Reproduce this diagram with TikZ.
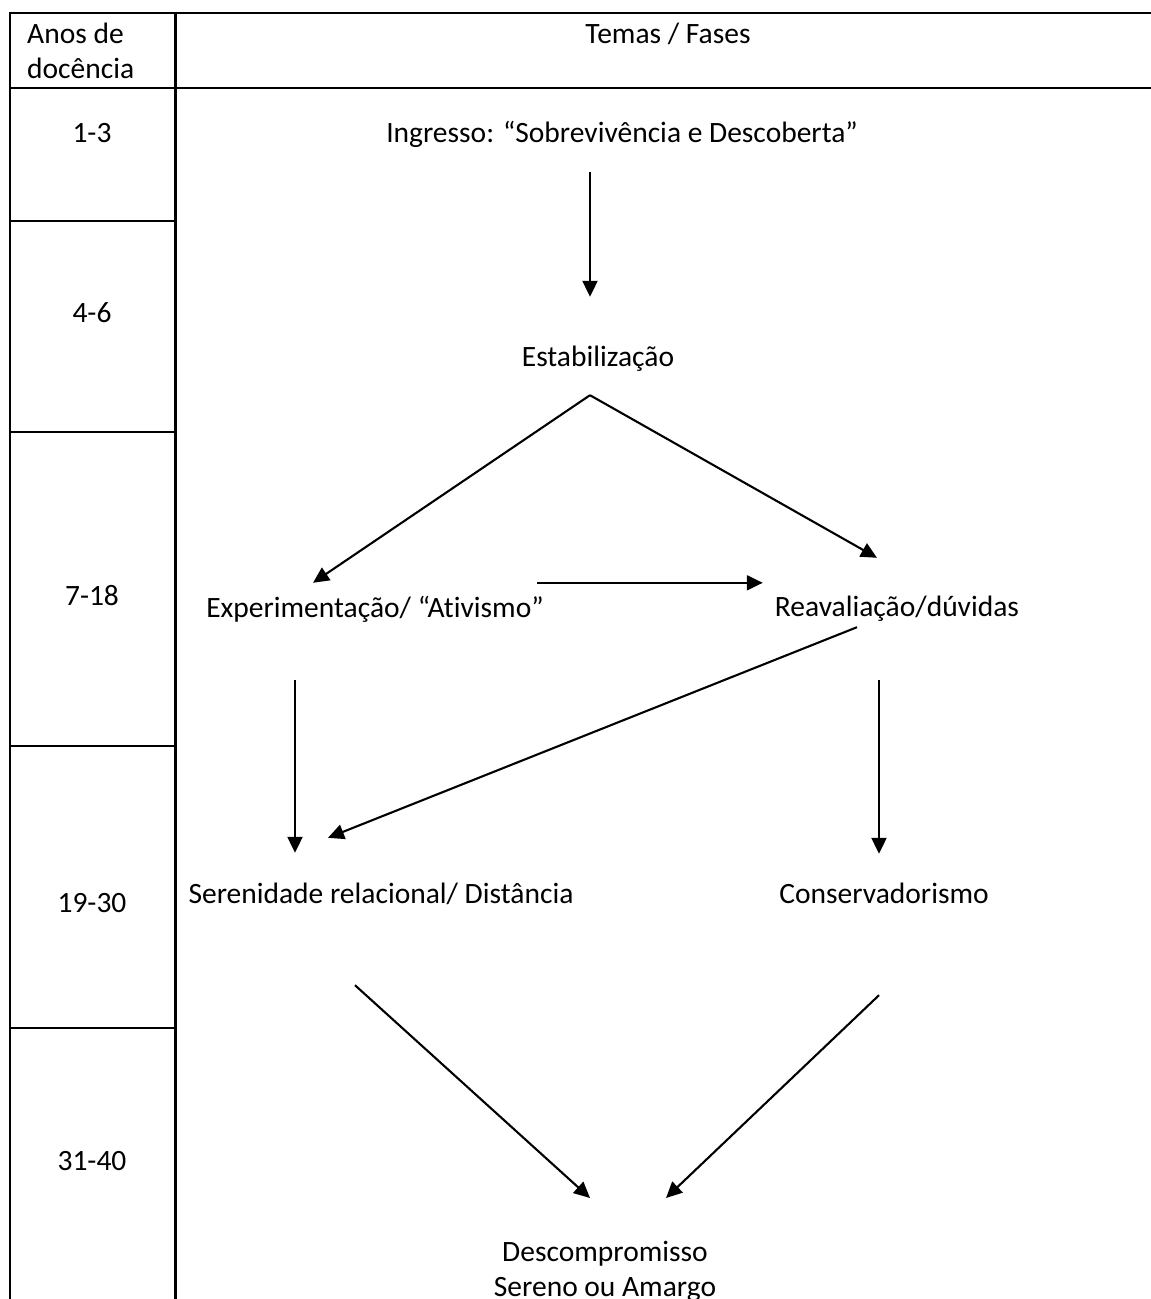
\documentclass[tikz,border=0pt]{standalone}
\usepackage{fontspec}
\setmainfont{Carlito}[RawFeature={-liga;-clig;-calt}]
\usetikzlibrary{arrows.meta}
\begin{document}
\begin{tikzpicture}
    [x=1pt,y=-1pt,
    % Styles
    table line/.style={line width=2.2pt},
    years text/.style={font=\fontsize{29.5}{35}\selectfont,inner sep=0pt,anchor=base},
    phase text/.style={font=\fontsize{29.5}{35}\selectfont,inner sep=0pt,
      text height=20pt,text depth=7pt,anchor=base},
    phase arrow/.style={line width=2.1pt,-{Triangle[length=16pt,width=15pt]}}]
    \useasboundingbox (0,0) rectangle (1151,1299);
    % The table
    \draw[table line] (1151,13) -- (10,13) -- (10,1299);
    \draw[table line] (10,88) -- (1151,88);
    \draw[table line] (175.5,13) -- (175.5,1299);
    \foreach \y in {221,432,746,1028}
      \draw[table line] (10,\y) -- (175.5,\y);
    \node[years text,anchor=north west,align=left] (years head) at (27,23) {Anos de\\docência};
    \node[years text] (phases head) at (668,43) {Temas / Fases};
    \foreach \name/\y/\ytext in {y1/142/1-3, y2/322/4-6, y3/605/7-18, y4/912/19-30, y5/1170/31-40}
      \node[years text] (\name) at (92,\y) {\ytext};
    % The phases
    \node[phase text] (ingresso) at (622,142) {Ingresso: “Sobrevivência e Descoberta”};
    \node[phase text] (estab) at (598,366) {Estabilização};
    \node[phase text] (exper) at (375,617) {Experimentação/ “Ativismo”};
    \node[phase text] (reaval) at (897,616) {Reavaliação/dúvidas};
    \node[phase text] (seren) at (381,903) {Serenidade relacional/ Distância};
    \node[phase text] (conserv) at (884,903) {Conservadorismo};
    \node[years text,anchor=north,align=center] (descomp) at (605,1241)
      {Descompromisso\\Sereno ou Amargo};
    \coordinate (apex) at ([xshift=-8pt,yshift=-22pt]estab.south);
    % The arrows
    \draw[phase arrow] ([xshift=-32pt,yshift=-23pt]ingresso.south) -- ([xshift=-8pt,yshift=49pt]estab.north);
    \draw[phase arrow] (apex) -- ([xshift=-62pt,yshift=14pt]exper.north);
    \draw[phase arrow] (apex) -- ([xshift=-20pt,yshift=38pt]reaval.north);
    \draw[phase arrow] ([xshift=-7pt,yshift=14pt]exper.north east) -- ([xshift=-12pt,yshift=13pt]reaval.north west);
    \draw[phase arrow] ([xshift=-40pt,yshift=-4pt]reaval.south) -- ([xshift=-53pt,yshift=45pt]seren.north);
    \draw[phase arrow] ([xshift=-80pt,yshift=-56pt]exper.south) -- ([xshift=-86pt,yshift=30pt]seren.north);
    \draw[phase arrow] ([xshift=-18pt,yshift=-57pt]reaval.south) -- ([xshift=-5pt,yshift=29pt]conserv.north);
    \draw[phase arrow] ([xshift=-26pt,yshift=-75pt]seren.south) -- ([xshift=-15pt,yshift=43pt]descomp.north);
    \draw[phase arrow] ([xshift=-5pt,yshift=-85pt]conserv.south) -- ([xshift=61pt,yshift=43pt]descomp.north);
\end{tikzpicture}
\end{document}
